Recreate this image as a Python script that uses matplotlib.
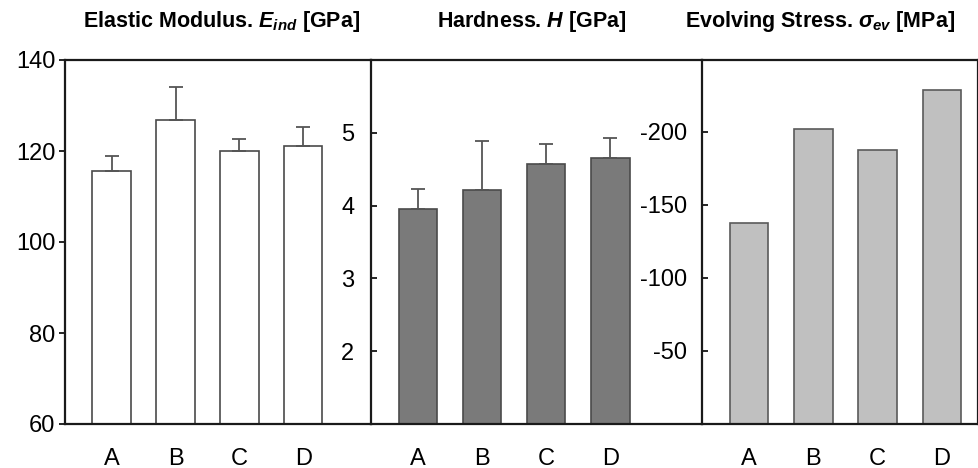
import numpy as np
import matplotlib.pyplot as plt

plt.rcParams["font.family"] = ["Liberation Sans", "DejaVu Sans"]
plt.rcParams["axes.unicode_minus"] = False
plt.rcParams["mathtext.fontset"] = "custom"
plt.rcParams["mathtext.it"] = "Liberation Sans:italic:bold"
plt.rcParams["mathtext.rm"] = "Liberation Sans:bold"

# Data
samples = ["A", "B", "C", "D"]
modulus = [115.6, 126.8, 120.0, 121.2]
modulus_err = [3.4, 7.2, 2.7, 4.1]
hardness = [3.95, 4.22, 4.57, 4.65]
hardness_err = [0.28, 0.67, 0.28, 0.28]
stress = [-137.5, -202.0, -187.2, -228.8]

W, H = 979, 468
fig = plt.figure(figsize=(W / 100, H / 100), dpi=100)


def px_axes(x0, x1, y_top=60, y_bot=424):
    return fig.add_axes([x0 / W, 1 - y_bot / H, (x1 - x0) / W, (y_bot - y_top) / H])


x = np.arange(len(samples))
edge = "#4a4a4a"
err_kw = dict(ecolor="#555555", elinewidth=1.3, capsize=5, capthick=1.3)
tick_fs = 17

# Panel 1: elastic modulus
ax1 = px_axes(65, 371)
ax1.bar(x, modulus, width=0.6, bottom=0, color="white", edgecolor=edge, linewidth=1.2,
        yerr=[np.zeros(4), modulus_err], error_kw=err_kw)
ax1.set_ylim(60, 140)
ax1.set_xlim(-0.73, 4.06)
ax1.set_yticks([60, 80, 100, 120, 140])
ax1.tick_params(axis="y", direction="out", length=4, width=1.2, labelsize=tick_fs, pad=3)

# Panel 2: hardness
ax2 = px_axes(371, 702)
ax2.bar(x, [h - 1 for h in hardness], width=0.6, bottom=1, color="#7a7a7a",
        edgecolor=edge, linewidth=1.2, yerr=[np.zeros(4), hardness_err], error_kw=err_kw)
ax2.set_ylim(1, 6)
ax2.set_xlim(-0.73, 4.43)
ax2.set_yticks([2, 3, 4, 5])
ax2.tick_params(axis="y", direction="in", length=4, width=1.2, labelsize=tick_fs, pad=12)

# Panel 3: evolving stress
ax3 = px_axes(702, 978)
ax3.bar(x, stress, width=0.6, color="#c0c0c0", edgecolor="#5a5a5a", linewidth=1.2)
ax3.set_ylim(0, -249)
ax3.set_xlim(-0.73, 3.56)
ax3.set_yticks([-50, -100, -150, -200])
ax3.tick_params(axis="y", direction="in", length=4, width=1.2, labelsize=tick_fs, pad=11)

for ax in (ax1, ax2, ax3):
    ax.set_xticks(x)
    ax.set_xticklabels(samples)
    ax.tick_params(axis="x", length=0, labelsize=tick_fs, pad=17)
    for s in ax.spines.values():
        s.set_linewidth(1.6)
        s.set_color("#1a1a1a")
    ax.set_facecolor("white")

ax1.spines["right"].set_visible(False)
ax2.spines["right"].set_visible(False)

title_kw = dict(fontsize=15.5, fontweight="bold", ha="center", va="center")
fig.text(222 / W, 1 - 22 / H, r"Elastic Modulus. $E_{ind}$ [GPa]", **title_kw)
fig.text(532 / W, 1 - 22 / H, r"Hardness. $H$ [GPa]", **title_kw)
fig.text(820 / W, 1 - 22 / H, r"Evolving Stress. $\sigma_{ev}$ [MPa]", **title_kw)

fig.savefig("out.png", dpi=100)
